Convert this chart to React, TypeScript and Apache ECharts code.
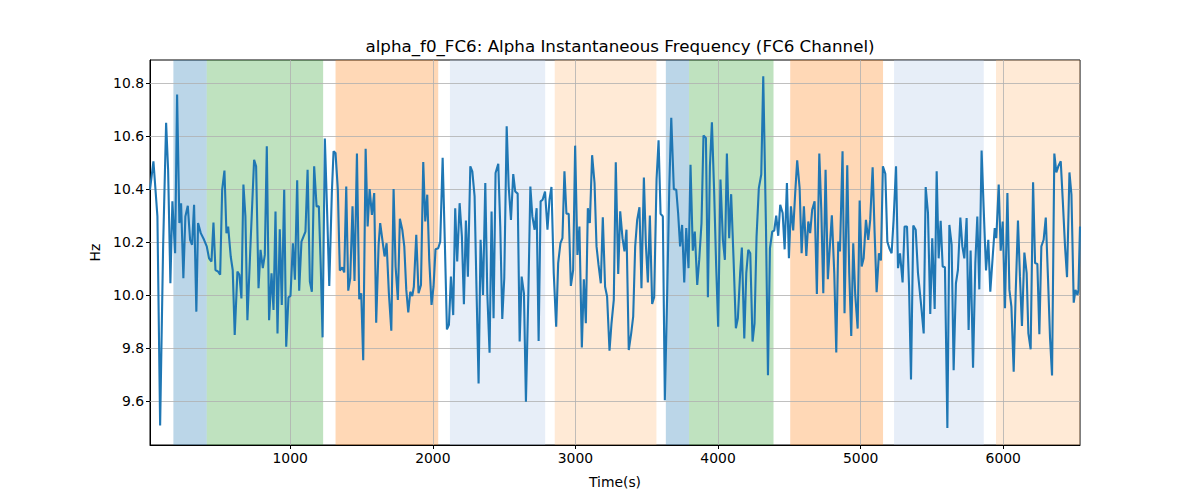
import React, { useEffect, useRef } from "react";
import * as echarts from "echarts";

const chartTitle = "alpha_f0_FC6: Alpha Instantaneous Frequency (FC6 Channel)";
const xName = "Time(s)";
const yName = "Hz";

const times = [
  17, 41, 69, 88, 109, 130, 144, 160, 174, 193, 207, 223, 235, 251, 265, 282, 298, 312, 326, 342,
  354, 373, 396, 415, 431, 448, 462, 476, 495, 509, 523, 539, 553, 565, 583, 597, 611, 630, 644, 658,
  672, 686, 700, 724, 747, 761, 778, 792, 808, 822, 836, 852, 869, 883, 897, 911, 927, 941,
  958, 972, 988, 1002, 1019, 1033, 1049, 1063, 1079, 1093, 1107, 1122, 1138, 1152, 1168, 1185, 1201, 1215, 1227, 1243,
  1260, 1274, 1292, 1304, 1318, 1334, 1348, 1365, 1379, 1393, 1407, 1421, 1437, 1451, 1468, 1484, 1498, 1512, 1529, 1543,
  1557, 1573, 1589, 1603, 1620, 1631, 1648, 1662, 1676, 1692, 1709, 1725, 1739, 1755, 1769, 1786, 1800, 1814, 1828, 1842, 1856,
  1867, 1884, 1900, 1917, 1933, 1947, 1961, 1975, 1991, 2005, 2019, 2038, 2052, 2069, 2085, 2099, 2113, 2127, 2143, 2157,
  2171, 2188, 2204, 2218, 2232, 2246, 2263, 2277, 2293, 2307, 2321, 2335, 2352, 2368, 2382, 2398, 2412, 2426, 2440, 2459,
  2473, 2487, 2501, 2518, 2532, 2548, 2564, 2578, 2595, 2609, 2623, 2639, 2653, 2670, 2684, 2698, 2714, 2728, 2742, 2756, 2770, 2787,
  2804, 2818, 2832, 2848, 2865, 2879, 2895, 2909, 2923, 2937, 2953, 2968, 2984, 2998, 3014, 3028, 3045, 3059, 3073, 3087,
  3101, 3117, 3134, 3148, 3162, 3178, 3192, 3208, 3222, 3239, 3253, 3269, 3283, 3300, 3314, 3330, 3344, 3358, 3374, 3391,
  3405, 3419, 3433, 3449, 3463, 3480, 3494, 3508, 3522, 3538, 3552, 3569, 3583, 3597, 3613, 3627, 3643, 3658, 3672, 3690, 3707,
  3720, 3734, 3748, 3763, 3777, 3793, 3807, 3823, 3837, 3854, 3868, 3884, 3898, 3915, 3929, 3943, 3957, 3973, 3987, 4001,
  4017, 4034, 4048, 4062, 4078, 4092, 4109, 4125, 4139, 4155, 4167, 4184, 4198, 4212, 4226, 4242, 4256, 4270, 4286, 4303,
  4317, 4336, 4350, 4364, 4380, 4394, 4408, 4422, 4436, 4453, 4467, 4483, 4497, 4511, 4527, 4541, 4555, 4572, 4586, 4602, 4619, 4633,
  4646, 4660, 4677, 4693, 4710, 4724, 4738, 4754, 4770, 4784, 4798, 4815, 4829, 4843, 4855, 4873, 4887, 4906, 4920, 4934,
  4948, 4962, 4979, 4993, 5007, 5021, 5037, 5053, 5067, 5084, 5098, 5112, 5128, 5142, 5156, 5173, 5187, 5201, 5217, 5231,
  5248, 5262, 5276, 5294, 5308, 5325, 5339, 5353, 5369, 5386, 5402, 5425, 5442, 5456, 5472, 5488, 5502, 5519, 5533, 5547, 5561,
  5575, 5591, 5608, 5622, 5638, 5652, 5668, 5682, 5699, 5713, 5727, 5743, 5757, 5771, 5788, 5804, 5818, 5832, 5848, 5862,
  5879, 5895, 5909, 5926, 5940, 5951, 5968, 5982, 5996, 6012, 6029, 6043, 6057, 6073, 6087, 6103, 6117, 6131, 6148, 6164,
  6176, 6192, 6209, 6223, 6239, 6253, 6267, 6283, 6298, 6314, 6328, 6342, 6358, 6372, 6386, 6403, 6417, 6433, 6447, 6464,
  6478, 6494, 6506, 6520, 6527, 6538,
];

const freqs = [
  10.397, 10.504, 10.296, 9.508, 10.183, 10.649, 10.472, 10.044, 10.353, 10.157, 10.756, 10.271, 10.346, 10.063, 10.296, 10.336, 10.208, 10.189, 10.34, 9.937,
  10.271, 10.233, 10.208, 10.183, 10.138, 10.126, 10.273, 10.094, 10.088, 10.076, 10.397, 10.469, 10.233, 10.258, 10.145, 10.094, 9.849, 10.088, 10.076, 9.987,
  10.416, 10.296, 9.905, 10.22, 10.51, 10.485, 10.025, 10.17, 10.101, 10.151, 10.561, 9.905, 10.082, 9.943, 10.315, 9.855, 10.248, 9.962,
  10.397, 9.805, 9.991, 9.996, 10.195, 10.057, 10.432, 10.016, 10.201, 10.22, 10.239, 10.472, 10.05, 10.012, 10.485, 10.334, 10.334, 10.094, 9.84, 10.59,
  10.296, 10.034, 10.384, 10.542, 10.535, 10.397, 10.092, 10.104, 10.085, 10.409, 10.016, 10.063, 10.334, 10.053, 10.533, 9.984, 10.006, 9.754, 10.551, 10.258,
  10.399, 10.302, 10.384, 9.895, 10.189, 10.271, 10.201, 10.145, 10.195, 10.006, 9.865, 10.399, 10.107, 9.981, 10.287, 10.246, 10.183, 10.019, 9.934, 10.012, 9.996,
  10.031, 10.227, 10.006, 10.038, 10.501, 10.277, 10.378, 10.132, 9.962, 10.031, 10.172, 10.176, 10.201, 10.517, 10.183, 9.87, 9.887, 10.069, 9.924, 10.327,
  10.126, 10.346, 10.22, 9.965, 10.281, 10.069, 10.485, 10.466, 10.372, 10.006, 9.666, 10.208, 10.0, 10.422, 10.006, 9.782, 10.315, 9.912, 10.46, 10.495,
  10.258, 9.909, 10.063, 10.636, 10.409, 10.283, 10.456, 10.39, 10.382, 9.824, 10.069, 10.006, 9.597, 10.006, 10.409, 10.296, 10.246, 10.327, 9.826, 10.353, 10.359, 10.39,
  10.246, 10.359, 10.407, 10.082, 9.88, 10.12, 10.195, 10.214, 10.466, 10.306, 10.306, 10.034, 10.094, 10.563, 10.151, 10.258, 9.802, 10.059, 9.893, 10.327,
  10.271, 10.527, 10.422, 10.183, 10.113, 10.044, 10.293, 10.031, 9.994, 9.79, 9.893, 9.981, 10.5, 10.079, 10.315, 10.214, 10.164, 10.246, 9.792, 9.855,
  9.918, 10.183, 10.283, 10.331, 10.025, 10.443, 10.189, 10.047, 10.299, 9.966, 9.991, 10.437, 10.583, 10.306, 10.296, 9.603, 9.994, 10.403, 10.668, 10.399, 10.397,
  10.309, 10.183, 10.264, 10.047, 10.252, 10.101, 10.491, 10.167, 10.239, 10.038, 10.132, 10.271, 10.601, 10.592, 9.991, 10.485, 10.651, 10.384, 10.107, 9.88,
  10.435, 10.208, 10.132, 10.533, 10.214, 10.38, 10.132, 9.874, 9.912, 10.082, 10.179, 9.836, 10.082, 10.17, 10.157, 9.824, 9.893, 10.22, 10.403, 10.454,
  10.825, 10.258, 9.697, 10.176, 10.239, 10.243, 10.299, 10.223, 10.34, 10.309, 10.172, 10.422, 10.138, 10.334, 10.243, 10.384, 10.508, 10.403, 10.157, 10.334, 10.147, 10.277,
  10.233, 10.321, 10.353, 10.004, 10.533, 10.321, 10.006, 10.472, 10.059, 10.183, 10.3, 10.082, 9.783, 10.201, 10.164, 10.542, 9.931, 10.489, 10.082, 9.845,
  10.195, 10.0, 9.873, 10.356, 10.107, 10.138, 10.283, 10.208, 10.283, 10.481, 10.233, 10.01, 10.157, 10.13, 10.485, 10.457, 10.201, 10.176, 10.157, 10.283,
  10.485, 10.101, 10.157, 10.047, 10.258, 10.258, 10.038, 9.681, 10.262, 10.246, 10.082, 9.956, 9.855, 10.407, 10.309, 9.928, 10.214, 9.947, 10.466, 10.138, 10.28,
  10.107, 10.104, 9.498, 10.264, 10.189, 9.716, 10.044, 10.094, 10.292, 10.183, 10.138, 10.29, 9.868, 10.167, 9.725, 10.12, 10.296, 10.021, 10.545, 10.334,
  10.092, 10.208, 10.012, 10.145, 10.252, 10.214, 10.416, 10.167, 10.277, 9.95, 10.384, 10.019, 9.956, 9.71, 10.006, 10.281, 10.069, 9.883, 10.16, 10.082,
  9.855, 9.795, 10.425, 10.12, 10.117, 9.852, 10.183, 10.208, 10.292, 10.057, 9.836, 9.696, 10.533, 10.462, 10.485, 10.504, 10.359, 10.183, 10.067, 10.462,
  10.378, 9.971, 10.019, 10.0, 10.019, 10.258,
];

const spanStarts = [181, 415, 1318, 2120, 2855, 3634, 3797, 4506, 5234, 5949];
const spanEnds = [415, 1231, 2038, 2788, 3568, 3797, 4389, 5157, 5863, 6538];
const spanKinds = ["blue", "green", "orange", "lightblue", "lightorange", "blue", "green", "orange", "lightblue", "lightorange"];

const xTicks = [1000, 2000, 3000, 4000, 5000, 6000];
const yTicks = [9.6, 9.8, 10.0, 10.2, 10.4, 10.6, 10.8];

const X_MIN = 17;
const X_MAX = 6538;
const Y_MIN = 9.434;
const Y_MAX = 10.886;

const spanColors: Record<string, string> = {
  blue: "rgba(31,119,180,0.3)",
  green: "rgba(44,160,44,0.3)",
  orange: "rgba(255,127,14,0.3)",
  lightblue: "rgba(174,199,232,0.3)",
  lightorange: "rgba(255,187,120,0.3)",
};

const FONT = "DejaVu Sans";

export default function App() {
  const ref = useRef<HTMLDivElement>(null);
  useEffect(() => {
    if (!ref.current) return;
    const chart = echarts.init(ref.current, null, { renderer: "svg" });
    const option: any = {
      animation: false,
      backgroundColor: "#fff",
      title: {
        text: chartTitle,
        left: 615,
        top: 32,
        textAlign: "center",
        textStyle: { fontFamily: FONT, fontSize: 16.7, fontWeight: "normal", color: "#000" },
      },
      grid: {
        left: 150,
        right: 120,
        top: 60,
        bottom: 55,
        show: true,
        borderColor: "#000",
        borderWidth: 1,
        backgroundColor: "transparent",
      },
      xAxis: {
        type: "value",
        min: X_MIN,
        max: X_MAX,
        name: xName,
        nameLocation: "middle",
        nameGap: 30,
        nameTextStyle: { fontFamily: FONT, fontSize: 13.9, color: "#000" },
        axisLine: { show: true, lineStyle: { color: "#000", width: 1 } },
        axisTick: { show: true, customValues: xTicks, length: 4, lineStyle: { color: "#000" } },
        axisLabel: {
          customValues: xTicks,
          formatter: (v: number) => String(v),
          fontFamily: FONT,
          fontSize: 13.9,
          color: "#000",
          margin: 6,
        },
        splitLine: { show: false },
      },
      yAxis: {
        type: "value",
        min: Y_MIN,
        max: Y_MAX,
        name: yName,
        nameLocation: "middle",
        nameGap: 47,
        nameRotate: 90,
        nameTextStyle: { fontFamily: FONT, fontSize: 13.9, color: "#000" },
        axisLine: { show: true, lineStyle: { color: "#000", width: 1 } },
        axisTick: { show: true, customValues: yTicks, length: 4, lineStyle: { color: "#000" } },
        axisLabel: {
          customValues: yTicks,
          formatter: (v: number) => v.toFixed(1),
          fontFamily: FONT,
          fontSize: 13.9,
          color: "#000",
          margin: 6,
        },
        splitLine: { show: false },
      },
      series: [
        {
          type: "line",
          data: [],
          z: 1,
          silent: true,
          markArea: {
            silent: true,
            data: spanStarts.map((s, i) => [
              { xAxis: s, itemStyle: { color: spanColors[spanKinds[i]] } },
              { xAxis: spanEnds[i] },
            ]),
          },
        },
        {
          type: "line",
          data: [],
          z: 2,
          silent: true,
          markLine: {
            silent: true,
            symbol: ["none", "none"],
            label: { show: false },
            lineStyle: { color: "#b0b0b0", width: 0.8, type: "solid" },
            data: [
              ...xTicks.map((v) => ({ xAxis: v })),
              ...yTicks.map((v) => ({ yAxis: v })),
            ],
          },
        },
        {
          type: "line",
          z: 5,
          data: times.map((t, i) => [t, freqs[i]]),
          showSymbol: false,
          symbol: "none",
          lineStyle: { color: "#1f77b4", width: 2.1 },
          itemStyle: { color: "#1f77b4" },
        },
      ],
    };
    chart.setOption(option);
    return () => chart.dispose();
  }, []);
  return (
    <div
      ref={ref}
      style={{ position: "fixed", left: 0, top: 0, width: 1200, height: 500, background: "#fff" }}
    />
  );
}
